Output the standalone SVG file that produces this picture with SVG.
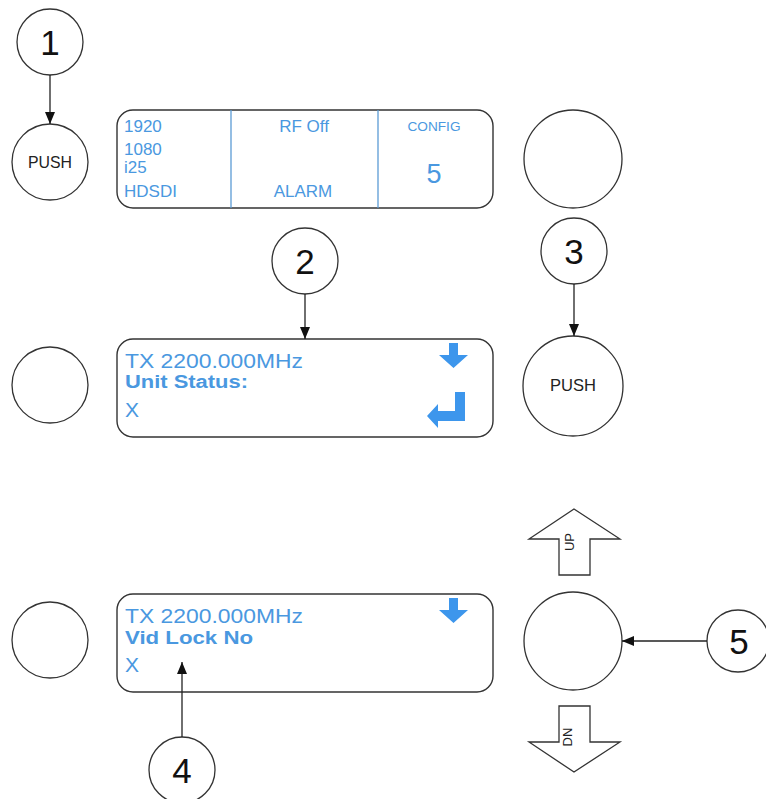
<svg xmlns="http://www.w3.org/2000/svg" width="766" height="799" viewBox="0 0 766 799">
<style>
.c{fill:#fff;stroke:#333;stroke-width:1.3}
.box{fill:#fff;stroke:#333;stroke-width:1.4}
.div{stroke:#5b9bd5;stroke-width:1.3}
.num{font-family:"Liberation Sans",Arial,sans-serif;font-size:35px;fill:#111;text-anchor:middle}
.push{font-family:"Liberation Sans",Arial,sans-serif;font-size:17px;fill:#222;text-anchor:middle}
.t{font-family:"Liberation Sans",Arial,sans-serif;fill:#4a98e0}
.b{font-weight:bold}
.m{text-anchor:middle}
.icon{fill:#3d96ec}
.lbl{font-family:"Liberation Sans",Arial,sans-serif;font-size:13px;fill:#222;text-anchor:middle}
.conn{stroke:#222;stroke-width:1.3;fill:none;marker-end:url(#ah)}
</style>
<defs>
<marker id="ah" viewBox="0 0 12 10" refX="12" refY="5" markerWidth="12" markerHeight="10" markerUnits="userSpaceOnUse" orient="auto">
<path d="M0,0 L12,5 L0,10 Z" fill="#111"/>
</marker>
</defs>
<rect width="766" height="799" fill="#fff"/>

<g id="callout1"><circle class="c" cx="50" cy="42" r="33"/><text class="num" x="50" y="55">1</text></g>
<g id="push1"><circle class="c" cx="50" cy="162" r="38"/><text class="push" x="50" y="168" textLength="44" lengthAdjust="spacingAndGlyphs">PUSH</text></g>

<g id="display1">
<rect class="box" x="117" y="110" width="376" height="98" rx="16"/>
<line class="div" x1="231" y1="110" x2="231" y2="208"/>
<line class="div" x1="378" y1="110" x2="378" y2="208"/>
<text class="t" font-size="17" x="124" y="132">1920</text>
<text class="t" font-size="17" x="124" y="155">1080</text>
<text class="t" font-size="17" x="124" y="173">i25</text>
<text class="t" font-size="17" x="124" y="197">HDSDI</text>
<text class="t m" font-size="17" x="304" y="132">RF Off</text>
<text class="t m" font-size="17" x="303" y="197">ALARM</text>
<text class="t m" font-size="13" x="434" y="131" textLength="53" lengthAdjust="spacingAndGlyphs">CONFIG</text>
<text class="t m" font-size="27" x="434" y="183">5</text>
</g>
<g id="button-top-right"><circle class="c" cx="573" cy="159" r="49"/></g>

<g id="callout2"><circle class="c" cx="305" cy="261" r="33"/><text class="num" x="305" y="274">2</text></g>
<g id="callout3"><circle class="c" cx="574" cy="251" r="33"/><text class="num" x="574" y="264">3</text></g>

<g id="button-mid-left"><circle class="c" cx="50" cy="385" r="38"/></g>
<g id="display2">
<rect class="box" x="117" y="339" width="376" height="98" rx="16"/>
<text class="t" font-size="21" x="125" y="368" textLength="178" lengthAdjust="spacingAndGlyphs">TX 2200.000MHz</text>
<text class="t b" font-size="18" x="125" y="388" textLength="123" lengthAdjust="spacingAndGlyphs">Unit Status:</text>
<text class="t" font-size="21" x="125" y="417">X</text>
<polygon class="icon" points="449,343 458,343 458,355 468,355 453.5,368 439,355 449,355"/>
<polygon class="icon" points="455,392 465,392 465,421 438,421 438,428 427,416 438,404 438,411 455,411"/>
</g>
<g id="push2"><circle class="c" cx="573" cy="386" r="50"/><text class="push" x="573" y="391" textLength="46" lengthAdjust="spacingAndGlyphs">PUSH</text></g>

<g id="up-arrow">
<polygon class="c" points="574,509 620,539 590,539 590,575 559,575 559,539 529,539"/>
<text class="lbl" transform="translate(570,542) rotate(-90)" x="0" y="4">UP</text>
</g>
<g id="button-bottom-left"><circle class="c" cx="50" cy="640" r="38"/></g>
<g id="display3">
<rect class="box" x="117" y="594" width="376" height="98" rx="16"/>
<text class="t" font-size="21" x="125" y="623" textLength="178" lengthAdjust="spacingAndGlyphs">TX 2200.000MHz</text>
<text class="t b" font-size="18" x="125" y="644" textLength="128" lengthAdjust="spacingAndGlyphs">Vid Lock No</text>
<text class="t" font-size="21" x="125" y="672">X</text>
<polygon class="icon" points="449,598 458,598 458,610 468,610 453.5,623 439,610 449,610"/>
</g>
<g id="button-updown"><circle class="c" cx="573" cy="641" r="49"/></g>
<g id="callout5"><circle class="c" cx="738" cy="641" r="31"/><text class="num" x="739" y="654">5</text></g>
<g id="dn-arrow">
<polygon class="c" points="559,706 590,706 590,742 620,742 574,772 529,742 559,742"/>
<text class="lbl" transform="translate(568,737) rotate(-90)" x="0" y="4">DN</text>
</g>
<g id="callout4"><circle class="c" cx="182" cy="770" r="33"/><text class="num" x="182" y="783">4</text></g>

<g id="connectors">
<line class="conn" x1="50" y1="75" x2="50" y2="124"/>
<line class="conn" x1="305" y1="294" x2="305" y2="339"/>
<line class="conn" x1="574" y1="284" x2="574" y2="336"/>
<line class="conn" x1="182" y1="737" x2="182" y2="662"/>
<line class="conn" x1="707" y1="641" x2="622" y2="641"/>
</g>
</svg>
